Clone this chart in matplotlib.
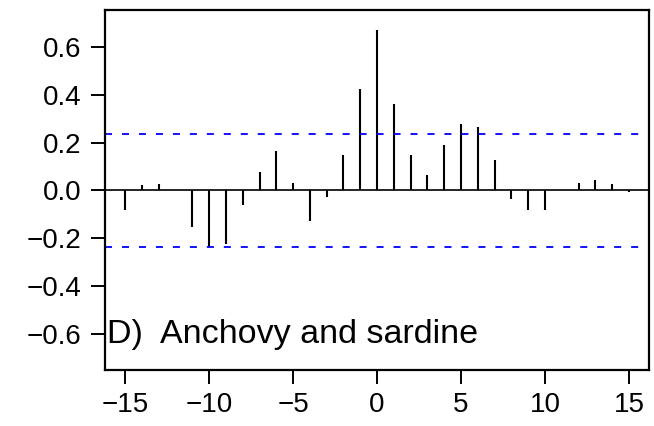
import numpy as np
import matplotlib.pyplot as plt

plt.rcParams['font.family'] = ['Liberation Sans', 'DejaVu Sans']

# cross-correlation by lag
lags = list(range(-15, 16))
ccf = [-0.084, 0.025, 0.028, 0.004, -0.154, -0.238, -0.224, -0.063, 0.077, 0.165,
       0.031, -0.129, -0.028, 0.147, 0.427, 0.674, 0.364, 0.150, 0.066, 0.189,
       0.280, 0.266, 0.126, -0.035, -0.080, -0.081, 0.004, 0.031, 0.042, 0.028,
       -0.005]
ci = 0.237
yticks = [-0.6, -0.4, -0.2, 0.0, 0.2, 0.4, 0.6]
xticks = [-15, -10, -5, 0, 5, 10, 15]
label = "D)  Anchovy and sardine"


def main():
    fig = plt.figure(figsize=(6.54, 4.26), dpi=100)
    ax = fig.add_axes([0.1606, 0.1315, 0.8318, 0.8450])

    ax.vlines(lags, 0, ccf, color='black', lw=1.5)
    ax.axhline(0, color='black', lw=1.2)
    ax.axhline(ci, color='blue', lw=1.3, linestyle=(0, (3.9, 5.5)))
    ax.axhline(-ci, color='blue', lw=1.3, linestyle=(0, (3.9, 5.5)))

    ax.set_xlim(-16.2, 16.2)
    ax.set_ylim(-0.753, 0.757)
    ax.set_xticks(xticks)
    ax.set_yticks(yticks)
    ax.set_yticklabels(['\u22120.6', '\u22120.4', '\u22120.2', '0.0', '0.2', '0.4', '0.6'])
    ax.set_xticklabels(['\u221215', '\u221210', '\u22125', '0', '5', '10', '15'])
    ax.tick_params(labelsize=20, width=1.4, length=10, color='black')
    ax.tick_params(axis='y', pad=7)
    ax.tick_params(axis='x', pad=6)

    for s in ax.spines.values():
        s.set_linewidth(1.6)

    ax.text(0.004, -0.638, label, transform=ax.get_yaxis_transform(),
            fontsize=24.5, va='baseline', ha='left')

    fig.savefig('out.png', dpi=100)


main()
